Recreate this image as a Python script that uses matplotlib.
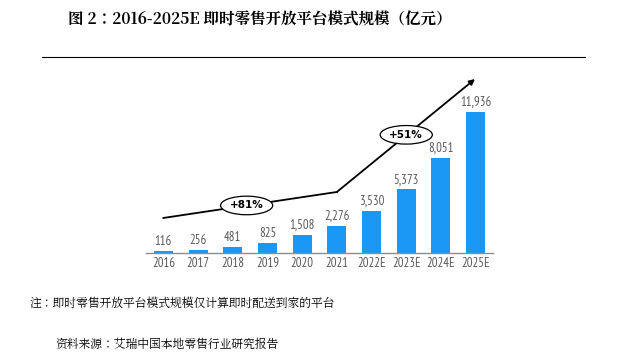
import matplotlib.pyplot as plt

plt.rcParams['font.family'] = ['Noto Sans SC', 'DejaVu Sans']

# Data: instant retail open platform market size (100m CNY)
years = ['2016', '2017', '2018', '2019', '2020', '2021',
         '2022E', '2023E', '2024E', '2025E']
values = [116, 256, 481, 825, 1508, 2276, 3530, 5373, 8051, 11936]

# Trend arrow (category index, value) and CAGR labels
trend_x = [0, 5, 8.98]
trend_y = [2940, 5140, 14700]
cagr_labels = ['+81%', '+51%']
cagr_x = [2.4, 7.0]
cagr_y = [4000, 9980]

bar_color = '#1a98f4'
grey = '#595959'
num_font = ['PT Sans Narrow', 'DejaVu Sans']
serif = ['Noto Serif CJK JP', 'Noto Serif SC', 'DejaVu Serif']

fig = plt.figure(figsize=(6.18, 3.63), dpi=100)
ax = fig.add_axes([146 / 618, 110.3 / 363, 347 / 618, 182.7 / 363])

x = range(len(years))
ax.bar(x, values, width=0.55, color=bar_color, zorder=2)
for i, v in enumerate(values):
    ax.text(i, v + 250, f'{v:,}', ha='center', va='bottom',
            fontsize=9.2, color=grey, family=num_font)

# Trend line with arrow head
ax.plot(trend_x[:2], trend_y[:2], color='black', lw=1.3, zorder=3)
ax.annotate('', xy=(trend_x[2], trend_y[2]), xytext=(trend_x[1], trend_y[1]),
            arrowprops=dict(arrowstyle='-|>', color='black', lw=1.3,
                            mutation_scale=8, shrinkA=0, shrinkB=0), zorder=3)
for lab, cx, cy in zip(cagr_labels, cagr_x, cagr_y):
    ax.text(cx, cy, lab, ha='center', va='center', fontsize=7.5,
            fontweight='bold', family='DejaVu Sans', zorder=4,
            bbox=dict(boxstyle='ellipse,pad=0.15', fc='white', ec='black', lw=0.9))

ax.set_xlim(-0.5, 9.5)
ax.set_ylim(0, 15466)
ax.set_xticks(list(x))
ax.set_xticklabels(years, fontsize=9.2, color=grey, family=num_font)
ax.tick_params(axis='x', length=0, pad=3)
ax.set_yticks([])
for s in ['top', 'left', 'right']:
    ax.spines[s].set_visible(False)
ax.spines['bottom'].set_color('#8c8c8c')
ax.spines['bottom'].set_linewidth(1.0)

# Title, rule and footnotes
fig.text(68 / 618, 1 - 20 / 363, '图 2：2016-2025E 即时零售开放平台模式规模（亿元）',
         ha='left', va='center', fontsize=11.2, fontweight='bold', family=serif)
fig.add_artist(plt.Line2D([42 / 618, 585 / 618], [1 - 57 / 363, 1 - 57 / 363],
                          color='black', lw=0.8))
fig.text(30 / 618, 1 - 304 / 363, '注：即时零售开放平台模式规模仅计算即时配送到家的平台',
         ha='left', va='center', fontsize=8.5, family=serif)
fig.text(55 / 618, 1 - 345 / 363, '资料来源：艾瑞中国本地零售行业研究报告',
         ha='left', va='center', fontsize=8.5, family=serif)

fig.savefig('out.png', dpi=100)
